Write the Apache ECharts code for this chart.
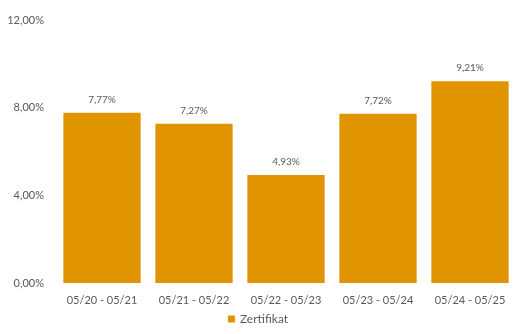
<!DOCTYPE html>
<html><head><meta charset="utf-8">
<script src="https://cdn.jsdelivr.net/npm/echarts@6/dist/echarts.min.js"></script>
<style>html,body{margin:0;padding:0;background:#fff}#c{width:516px;height:334px}</style>
</head><body><div id="c"></div>
<script>
const categories = ['05/20 - 05/21','05/21 - 05/22','05/22 - 05/23','05/23 - 05/24','05/24 - 05/25'];
const zertifikat = [7.77, 7.27, 4.93, 7.72, 9.21];
const seriesName = 'Zertifikat';
const fmt = v => v.toFixed(2).replace('.', ',') + '%';
const chart = echarts.init(document.getElementById('c'), null, {renderer:'canvas'});
const txt = {color:'#595959', fontFamily:'Lato, "Open Sans", sans-serif', fontSize:11};
chart.setOption({
  animation:false,
  grid:{left:56, right:0, top:20, bottom:51, containLabel:false},
  legend:{bottom:4, left:'center', itemWidth:7, itemHeight:7, itemGap:4, icon:'rect',
    textStyle:Object.assign({}, txt, {fontSize:12}), data:[seriesName]},
  xAxis:{type:'category', data:categories,
    axisLine:{show:false}, axisTick:{show:false},
    axisLabel:Object.assign({}, txt, {margin:12})},
  yAxis:{type:'value', min:0, max:12, interval:4,
    splitLine:{show:false}, axisLine:{show:false}, axisTick:{show:false},
    axisLabel:Object.assign({}, txt, {margin:12, formatter:fmt})},
  series:[{name:seriesName, type:'bar', data:zertifikat, barCategoryGap:'16%',
    itemStyle:{color:'#E09500'},
    label:{show:true, position:'top', distance:8, formatter:p=>fmt(p.value), ...txt, fontSize:10}}]
});
</script></body></html>
